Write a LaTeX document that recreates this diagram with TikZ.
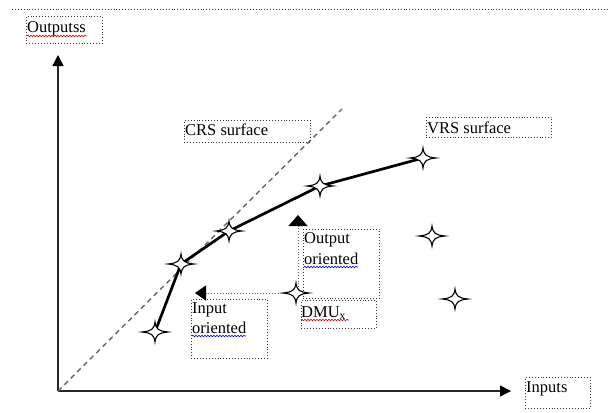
\documentclass[tikz,border=0pt]{standalone}
\usepackage{fontspec}
\setmainfont{Liberation Serif}
\usetikzlibrary{arrows.meta,decorations.pathmorphing}
\begin{document}
\begin{tikzpicture}[x=1pt,y=-1pt,
  box/.style={draw=black!80, dotted, line width=0.9pt, inner sep=0pt, anchor=north west},
  lbl/.style={anchor=base west, inner sep=0pt, font=\fontsize{16.5}{22}\selectfont, text=black},
  wavyred/.style={draw=red!85!black, decorate, decoration={snake, segment length=3pt, amplitude=0.8pt}, line width=0.6pt},
  wavyblue/.style={draw=blue!85!black, decorate, decoration={snake, segment length=3pt, amplitude=0.8pt}, line width=0.6pt},
  axis/.style={draw=black!85, line width=1.3pt, -{Triangle[length=11pt,width=11pt,color=black,fill=black]}},
  frontier/.style={draw=black, line width=2.7pt, line join=round},
  crs/.style={draw=black!60, line width=1.4pt, dash pattern=on 5pt off 4pt},
  guide/.style={draw=black!60, dotted, line width=0.9pt},
  starpic/.pic={\draw[fill=white, draw=black, line width=1.1pt]
     (-13,0) .. controls (-3,-1) and (-1,-3) .. (0,-10)
     .. controls (1,-3) and (3,-1) .. (13,0)
     .. controls (3,1) and (1,3) .. (0,10)
     .. controls (-1,3) and (-3,1) .. (-13,0) -- cycle;}
]
\useasboundingbox (0,0) rectangle (609,412);

% top dotted rule
\coordinate (ruleL) at (12,9.5);
\coordinate (ruleR) at (609,9.5);
\draw[draw=black!80, dotted, line width=0.9pt] (ruleL) -- (ruleR);

% axes
\coordinate (O) at (58,391);
\coordinate (ytip) at (58,55);
\coordinate (xtip) at (511,391);
\draw[axis] (O) -- (ytip);
\draw[axis] (O) -- (xtip);

% CRS line
\coordinate (crsEnd) at (342,109);
\draw[crs] (O) -- (crsEnd);

% frontier points
\coordinate (p1) at (155,332);
\coordinate (p2) at (181,264);
\coordinate (p3) at (229,231);
\coordinate (p4) at (320,186);
\coordinate (p5) at (423,158);
\coordinate (q1) at (432,236);
\coordinate (q2) at (455,299);
\coordinate (dmu) at (296,293);

\draw[frontier] (p1) -- (p2) -- (p3) -- (p4) -- (p5);

% orientation arrows
\coordinate (inTip) at (195,293);
\coordinate (outTip) at (298,215);
\coordinate (dmuTop) at (298,293);
\draw[guide, -{Triangle[length=11pt,width=15pt,color=black,fill=black]}] (dmu) -- (inTip);
\draw[guide, -{Triangle[length=11pt,width=19pt,color=black,fill=black]}] (dmuTop) -- (outTip);

% stars
\foreach \p in {p1,p2,p3,p4,p5,q1,q2,dmu} \pic at (\p) {starpic};

% boxes
\node[box, minimum width=76pt, minimum height=27pt] (bOutputs) at (26,16) {};
\node[box, minimum width=126pt, minimum height=22pt] (bCRS) at (184,120) {};
\node[box, minimum width=125pt, minimum height=20pt] (bVRS) at (426,117) {};
\node[box, minimum width=76pt, minimum height=69pt] (bOutOr) at (303,229) {};
\node[box, minimum width=75pt, minimum height=28pt] (bDMU) at (301,300) {};
\node[box, minimum width=76pt, minimum height=59pt] (bInOr) at (191,299) {};
\node[box, minimum width=65pt, minimum height=31pt] (bInputs) at (525,377) {};

% labels
\node[lbl] (tOutputs) at (27,33) {Outputss};
\node[lbl] (tCRS) at (185,135) {CRS surface};
\node[lbl] (tVRS) at (427,133) {VRS surface};
\node[lbl] (tOut1) at (304,243) {Output};
\node[lbl] (tOut2) at (304,264) {oriented};
\node[lbl] (tIn1) at (192,313) {Input};
\node[lbl] (tIn2) at (192,333) {oriented};
\node[lbl] (tDMU) at (301,317) {DMU\textsubscript{x}};
\node[lbl] (tInputs) at (526,392) {Inputs};

% spell-check underlines
\draw[wavyred] (tOutputs.base west) ++(0,3) -- ++(60,0);
\draw[wavyred] (tDMU.base west) ++(0,3) -- ++(48,0);
\draw[wavyblue] (tOut2.base west) ++(0,3) -- ++(54,0);
\draw[wavyblue] (tIn2.base west) ++(0,3) -- ++(54,0);
\end{tikzpicture}
\end{document}
